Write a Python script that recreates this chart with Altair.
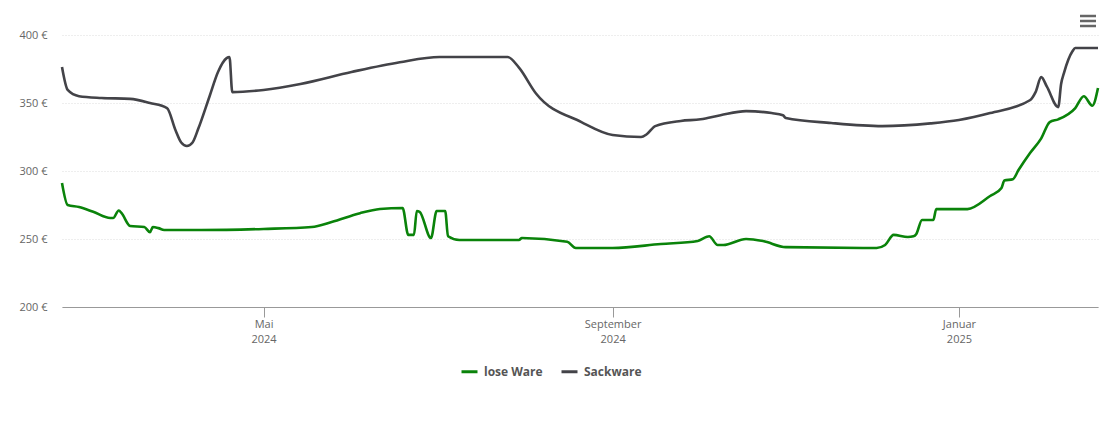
import altair as alt
import pandas as pd

sack_dates = ["2024-02-20","2024-02-22","2024-02-26","2024-03-05","2024-03-15","2024-03-22","2024-03-28",
              "2024-03-31","2024-04-02","2024-04-04","2024-04-06","2024-04-08","2024-04-12",
              "2024-04-15","2024-04-18","2024-04-19","2024-04-20",
              "2024-05-01","2024-05-14","2024-06-01","2024-06-18","2024-07-02","2024-07-26","2024-07-30",
              "2024-08-05","2024-08-21","2024-09-01","2024-09-11","2024-09-13","2024-09-16",
              "2024-09-25","2024-10-02","2024-10-09","2024-10-18","2024-10-27","2024-10-31","2024-11-01",
              "2024-11-17","2024-12-05","2024-12-22","2025-01-01","2025-01-12","2025-01-26","2025-01-28",
              "2025-01-30","2025-02-01","2025-02-05","2025-02-06","2025-02-07","2025-02-10","2025-02-11",
              "2025-02-19"]
sack_values = [376.5,359.6,355,353.7,353,350,346.3,
               330,321,318.4,321,331,355,
               373,383,383.8,358,
               359.6,364,372.8,380,383.8,383.8,376,
               357,336,326.5,325,327,333,
               336.8,338,341,344,342.6,341,339,
               335.3,333,335,337.5,342.6,352,358,
               369,362,347,364,372,388,390.4,
               390.4]

lose_dates = ["2024-02-20","2024-02-22","2024-02-26","2024-03-02","2024-03-08","2024-03-09","2024-03-11",
              "2024-03-12","2024-03-15","2024-03-20","2024-03-22","2024-03-23","2024-03-25","2024-03-27",
              "2024-04-09","2024-05-01","2024-05-18","2024-05-25","2024-06-04","2024-06-11","2024-06-19",
              "2024-06-21","2024-06-23","2024-06-24","2024-06-25","2024-06-29","2024-07-01","2024-07-04",
              "2024-07-05","2024-07-09","2024-07-30","2024-07-31","2024-08-16","2024-08-19","2024-09-01",
              "2024-09-18","2024-10-01","2024-10-04","2024-10-05","2024-10-08","2024-10-10","2024-10-18",
              "2024-10-24","2024-11-01","2024-12-03","2024-12-06","2024-12-09","2024-12-14","2024-12-16",
              "2024-12-17","2024-12-19","2024-12-23","2024-12-24","2025-01-04","2025-01-12","2025-01-16",
              "2025-01-17","2025-01-20","2025-01-22","2025-01-26","2025-01-30","2025-02-02","2025-02-05",
              "2025-02-11","2025-02-14","2025-02-17","2025-02-19"]
lose_values = [291.2,275,273.5,270,265.4,265.4,271,
               269,259.6,258.8,255,258.8,258,256.6,
               256.6,257.4,258.8,262.5,269,272,272.8,
               253,253,270.6,270,250.7,270.6,270.6,
               252,249.3,249.3,250.7,248,243.4,243.4,
               246.3,248.5,251.5,252,245.6,245.6,250,
               248.5,244,243.4,245.6,253,251.5,252,
               253.7,264,264,272,272,281.6,287.5,
               293,294,300.7,313,324,336,338,
               346.3,355,348,361]

series_names = ["lose Ware", "Sackware"]
series_colors = ["#0a830a", "#434348"]

df = pd.concat([
    pd.DataFrame({"date": lose_dates, "price": lose_values, "series": "lose Ware"}),
    pd.DataFrame({"date": sack_dates, "price": sack_values, "series": "Sackware"}),
])

FONT = "Open Sans"
month_names = "['Januar','Februar','März','April','Mai','Juni','Juli','August','September','Oktober','November','Dezember']"

lines = alt.Chart(df).mark_line(strokeWidth=2.6, interpolate="monotone").encode(
    x=alt.X("date:T",
            scale=alt.Scale(type="utc",
                            domain=[alt.DateTime(year=2024, month=2, date=20, utc=True),
                                    alt.DateTime(year=2025, month=2, date=19, utc=True)]),
            axis=alt.Axis(title=None, grid=False,
                          values=[alt.DateTime(year=2024, month=5, date=1, utc=True),
                                  alt.DateTime(year=2024, month=9, date=1, utc=True),
                                  alt.DateTime(year=2025, month=1, date=1, utc=True)],
                          labelExpr="[" + month_names + "[utcmonth(datum.value)], '' + utcyear(datum.value)]",
                          tickSize=10, tickColor="#999999", domainColor="#999999",
                          labelColor="#666666", labelFontSize=11, labelFont=FONT,
                          labelPadding=1, labelLineHeight=15)),
    y=alt.Y("price:Q",
            scale=alt.Scale(domain=[200, 400], nice=False, zero=False),
            axis=alt.Axis(title=None, values=[200, 250, 300, 350, 400],
                          labelExpr="datum.value + ' €'", domain=False, ticks=False,
                          grid=True, gridColor="#dddddd", gridDash=[1, 2],
                          labelColor="#666666", labelFontSize=11, labelFont=FONT,
                          labelPadding=15)),
    color=alt.Color("series:N",
                    scale=alt.Scale(domain=series_names, range=series_colors),
                    legend=alt.Legend(title=None, orient="none", direction="horizontal",
                                      legendX=398, legendY=327,
                                      symbolType="stroke", symbolStrokeWidth=3, symbolSize=256,
                                      labelFont=FONT, labelFontSize=12, labelFontWeight="bold",
                                      labelColor="#555555", columnPadding=12, labelOffset=5)),
)

icon_df = pd.DataFrame({"k": [0]})
icon = alt.layer(*[
    alt.Chart(icon_df).mark_rule(color="#666666", strokeWidth=2.5).encode(
        x=alt.value(1018), x2=alt.value(1034), y=alt.value(yy))
    for yy in (-19, -14, -9)
])

chart = alt.layer(lines, icon).properties(
    width=1036, height=272,
    autosize=alt.AutoSizeParams(type="none"),
    padding={"left": 54, "top": 27, "right": 4, "bottom": 100},
).configure(font=FONT).configure_view(strokeWidth=0, stroke="transparent")

chart.save("out.html", embed_options={"renderer": "svg", "actions": False})
